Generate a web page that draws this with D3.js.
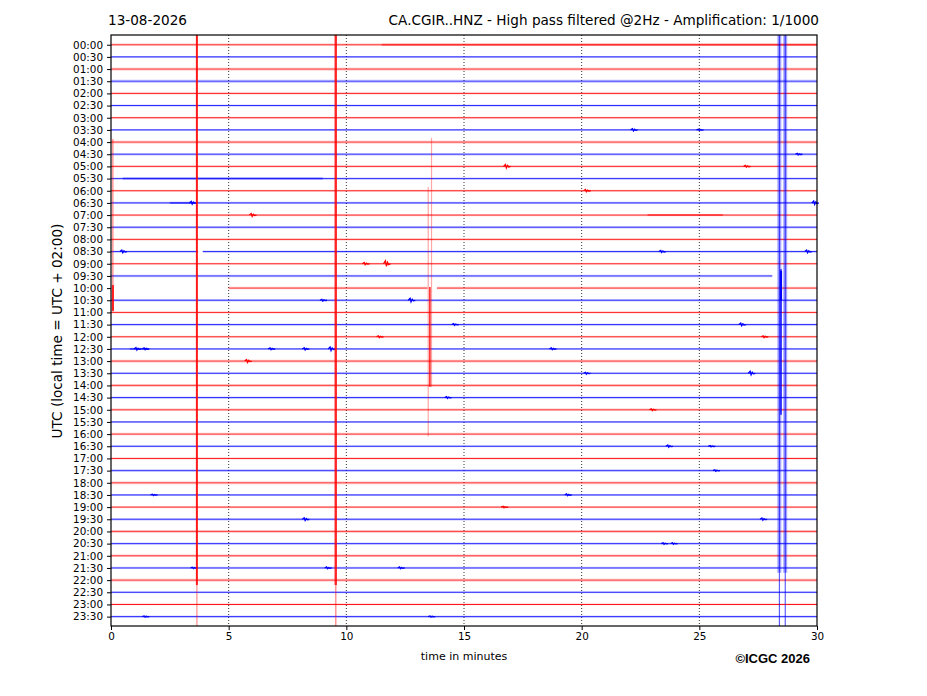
<!DOCTYPE HTML>
<html>
<head>
<meta content="text/html;charset=utf-8" http-equiv="Content-Type">
<script type="text/javascript" src="https://d3js.org/d3.v7.min.js"></script>
<style>
  body { margin: 0; background: #fff; }
  text { font-family: "DejaVu Sans", sans-serif; fill: #000; }
</style>
</head>
<body>
<div id="helicorder"></div>
<script type="text/javascript">
// row labels, one trace every 30 minutes
var rowLabels = ["00:00","00:30","01:00","01:30","02:00","02:30","03:00","03:30",
  "04:00","04:30","05:00","05:30","06:00","06:30","07:00","07:30",
  "08:00","08:30","09:00","09:30","10:00","10:30","11:00","11:30",
  "12:00","12:30","13:00","13:30","14:00","14:30","15:00","15:30",
  "16:00","16:30","17:00","17:30","18:00","18:30","19:00","19:30",
  "20:00","20:30","21:00","21:30","22:00","22:30","23:00","23:30"];
var minuteTicks = [0, 5, 10, 15, 20, 25, 30];
var traceColors = ["#ff0000", "#0000ff"];

// background noise level of each row (0 quiet .. 1 noisy)
var rowNoise = [0.5,0.2,0.6,0.7,0.3,0.3,0.2,0.2,
  0.6,0.6,0.4,0.4,0.3,0.3,0.4,0.5,
  0.4,0.3,0.3,0.5,0.5,0.4,0.3,0.3,
  0.3,0.3,0.6,0.3,0.6,0.3,0.6,0.3,
  0.5,0.3,0.2,0.5,0.6,0.3,0.4,0.5,
  0.6,0.4,0.5,0.4,0.6,0.3,0.1,0.3];

// parts of rows without data: [row, from minute, to minute]
var gaps = [[19, 28.1, 30], [20, 0, 5.0], [20, 13.45, 13.85], [17, 3.7, 3.9]];

// noisier stretches: [row, from, to]
var noisy = [[11, 0.5, 9.0], [14, 22.8, 26.0], [0, 11.5, 30], [13, 2.5, 3.6], [25, 0.8, 1.6]];

// small events: [row, minute, amplitude in rows]
var events = [
  [7, 22.2, 0.1], [7, 25.0, 0.05], [9, 29.2, 0.07],
  [10, 16.8, 0.15], [10, 27.0, 0.08], [12, 20.2, 0.1],
  [13, 3.45, 0.13], [13, 29.9, 0.15], [14, 6.0, 0.13],
  [17, 0.5, 0.12], [17, 23.4, 0.1], [17, 29.6, 0.12],
  [18, 10.8, 0.1], [18, 11.7, 0.25], [21, 9.0, 0.08], [21, 12.75, 0.16],
  [23, 14.6, 0.08], [23, 26.8, 0.12], [24, 11.4, 0.08], [24, 27.75, 0.08],
  [25, 1.1, 0.12], [25, 1.45, 0.08], [25, 6.8, 0.08], [25, 8.25, 0.1],
  [25, 9.35, 0.16], [25, 18.75, 0.08], [26, 5.8, 0.13], [27, 20.2, 0.08],
  [27, 27.2, 0.16], [29, 14.3, 0.08], [30, 23.0, 0.08], [33, 23.7, 0.1],
  [33, 25.5, 0.06], [35, 25.7, 0.06], [37, 1.8, 0.06], [37, 19.4, 0.08],
  [38, 16.7, 0.06], [39, 8.25, 0.12], [39, 27.7, 0.1], [41, 23.5, 0.06],
  [41, 23.9, 0.06], [43, 3.5, 0.06], [43, 9.2, 0.08], [43, 12.3, 0.08],
  [47, 1.45, 0.05], [47, 13.6, 0.05]
];

// long vertical marks: [minute, from row, to row, colour index, width, opacity]
var glitches = [
  [3.65, -0.8, 44.4, 0, 2.0, 0.9], [3.65, 44.4, 47.77, 0, 1.2, 0.45],
  [9.55, -0.8, 44.4, 0, 2.4, 0.85], [9.55, 44.4, 47.77, 0, 1.6, 0.4],
  [0.08, 7.75, 21.8, 0, 1.2, 0.5], [0.08, 19.75, 21.9, 0, 2.2, 0.8],
  [13.62, 7.65, 28.1, 0, 1.2, 0.35], [13.48, 11.7, 32.2, 0, 1.2, 0.35],
  [13.55, 19.9, 28.1, 0, 1.6, 0.85],
  [28.4, -0.8, 43.4, 1, 4.0, 0.35], [28.65, -0.8, 43.4, 1, 4.0, 0.35],
  [28.4, -0.8, 47.77, 1, 1.0, 0.75], [28.65, -0.8, 47.77, 1, 1.0, 0.75],
  [28.47, 18.45, 30.4, 1, 1.5, 0.95], [28.47, 18.6, 21.0, 1, 2.2, 1.0]
];

var width = 927, height = 696;
var svg = d3.select("#helicorder").append("svg")
  .attr("width", width).attr("height", height);

var x = d3.scaleLinear().domain([0, 30]).range([111, 817]);
var y = d3.scaleLinear().domain([-0.8, 47.77]).range([35, 626]);

var plot = svg.append("g");

// dotted grid
plot.selectAll("line.grid").data(minuteTicks.slice(1, -1)).enter().append("line")
  .attr("x1", function(d) { return x(d); }).attr("x2", function(d) { return x(d); })
  .attr("y1", y(-0.8)).attr("y2", y(47.77))
  .attr("stroke", "#000").attr("stroke-width", 0.8)
  .attr("stroke-dasharray", "1,2");

// row pieces after removing gaps
function pieces(row) {
  var parts = [[0, 30]];
  gaps.filter(function(g) { return g[0] === row; }).forEach(function(g) {
    var out = [];
    parts.forEach(function(p) {
      if (g[2] <= p[0] || g[1] >= p[1]) { out.push(p); return; }
      if (g[1] > p[0]) out.push([p[0], g[1]]);
      if (g[2] < p[1]) out.push([g[2], p[1]]);
    });
    parts = out;
  });
  return parts;
}

var segs = [];
rowLabels.forEach(function(l, i) {
  pieces(i).forEach(function(p) { segs.push({row: i, t0: p[0], t1: p[1], n: rowNoise[i]}); });
});

// soft halo for the noise band, then the trace itself
plot.selectAll("line.halo").data(segs).enter().append("line")
  .attr("x1", function(d) { return x(d.t0); }).attr("x2", function(d) { return x(d.t1); })
  .attr("y1", function(d) { return y(d.row); }).attr("y2", function(d) { return y(d.row); })
  .attr("stroke", function(d) { return traceColors[d.row % 2]; })
  .attr("stroke-width", function(d) { return 1.5 + d.n * 2; })
  .attr("stroke-opacity", function(d) { return 0.12 + d.n * 0.2; });

plot.selectAll("line.trace").data(segs).enter().append("line")
  .attr("x1", function(d) { return x(d.t0); }).attr("x2", function(d) { return x(d.t1); })
  .attr("y1", function(d) { return y(d.row); }).attr("y2", function(d) { return y(d.row); })
  .attr("stroke", function(d) { return traceColors[d.row % 2]; })
  .attr("stroke-width", 1)
  .attr("stroke-opacity", function(d) { return 1 - d.n * 0.6; });

plot.selectAll("line.noisy").data(noisy).enter().append("line")
  .attr("x1", function(d) { return x(d[1]); }).attr("x2", function(d) { return x(d[2]); })
  .attr("y1", function(d) { return y(d[0]); }).attr("y2", function(d) { return y(d[0]); })
  .attr("stroke", function(d) { return traceColors[d[0] % 2]; })
  .attr("stroke-width", 2).attr("stroke-opacity", 0.45);

// event wiggles
var wiggle = d3.line();
plot.selectAll("path.event").data(events).enter().append("path")
  .attr("d", function(d) {
    var r = d[0], t = d[1], a = d[2];
    return wiggle([[x(t - 0.12), y(r)], [x(t - 0.04), y(r - a)], [x(t), y(r + a * 0.8)],
      [x(t + 0.05), y(r - a * 0.5)], [x(t + 0.1), y(r + a * 0.3)], [x(t + 0.18), y(r)]]);
  })
  .attr("fill", "none")
  .attr("stroke", function(d) { return traceColors[d[0] % 2]; })
  .attr("stroke-width", 1.3);

plot.selectAll("line.glitch").data(glitches).enter().append("line")
  .attr("x1", function(d) { return x(d[0]); }).attr("x2", function(d) { return x(d[0]); })
  .attr("y1", function(d) { return y(d[1]); }).attr("y2", function(d) { return y(d[2]); })
  .attr("stroke", function(d) { return traceColors[d[3]]; })
  .attr("stroke-width", function(d) { return d[4]; })
  .attr("stroke-opacity", function(d) { return d[5]; });

// axes
var yAxis = d3.axisLeft(y).tickValues(d3.range(rowLabels.length))
  .tickFormat(function(d) { return rowLabels[d]; }).tickSize(4).tickPadding(4);
var gy = svg.append("g").attr("transform", "translate(111,0)").call(yAxis);
gy.select(".domain").remove();
gy.selectAll("text").style("font-size", "10.4px").style("font-family", "DejaVu Sans");

var xAxis = d3.axisBottom(x).tickValues(minuteTicks).tickFormat(d3.format("d"))
  .tickSize(4).tickPadding(3);
var gx = svg.append("g").attr("transform", "translate(0,626)").call(xAxis);
gx.select(".domain").remove();
gx.selectAll("text").style("font-size", "10.4px").style("font-family", "DejaVu Sans");

svg.append("rect").attr("x", 111).attr("y", 35).attr("width", 706).attr("height", 591)
  .attr("fill", "none").attr("stroke", "#000").attr("stroke-width", 1.2);

// texts
svg.append("text").attr("x", 108).attr("y", 25).style("font-size", "13.6px").text("13-08-2026");
svg.append("text").attr("x", 819).attr("y", 25).attr("text-anchor", "end").style("font-size", "13.6px")
  .text("CA.CGIR..HNZ - High pass filtered @2Hz - Amplification: 1/1000");
svg.append("text").attr("transform", "translate(62,331) rotate(-90)").attr("text-anchor", "middle")
  .style("font-size", "13.6px").text("UTC (local time = UTC + 02:00)");
svg.append("text").attr("x", 464).attr("y", 660).attr("text-anchor", "middle")
  .style("font-size", "11px").text("time in minutes");
svg.append("text").attr("x", 810).attr("y", 663).attr("text-anchor", "end")
  .style("font-family", "Liberation Sans, Arial, sans-serif").style("font-weight", "bold")
  .style("font-size", "13px").text("\u00A9ICGC 2026");
</script>
</body>
</html>
